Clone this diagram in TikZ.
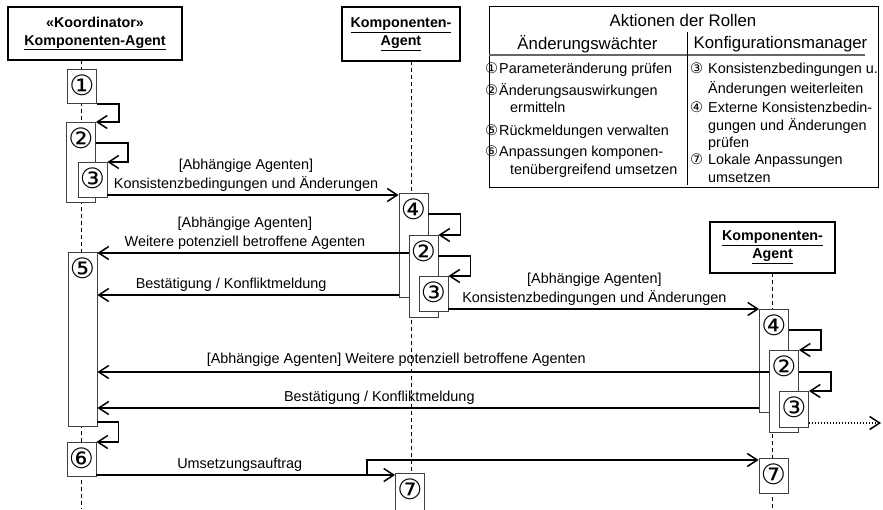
\documentclass[tikz,border=0pt]{standalone}
\usepackage{fontspec}
\setmainfont{Liberation Sans}
\newfontfamily\nrfont{DejaVu Sans}
\usetikzlibrary{arrows.meta,positioning}

\newcommand{\legnr}[2][14pt]{\makebox[#1][l]{\nrfont\fontsize{14.5}{14.5}\selectfont #2}}

\begin{document}
\begin{tikzpicture}[x=1pt, y=-1pt, font=\fontsize{14.4}{19}\selectfont,
        head/.style={rectangle, draw, fill=white, line width=1.6pt, align=center, font=\fontsize{14.3}{18}\selectfont\bfseries},
        act/.style={rectangle, draw=black!75, fill=white, line width=0.8pt, minimum width=29pt, inner sep=0pt, anchor=north,
            label={[anchor=center, yshift=-16.5pt, inner sep=0pt, font=\nrfont\fontsize{28}{28}\selectfont]north:#1}},
        life/.style={dash pattern=on 4pt off 3pt, line width=0.8pt},
        msg/.style={-{Straight Barb[length=10pt, width=13pt]}, line width=1.5pt},
        lbl/.style={above, align=center, inner sep=2.5pt},
        legtxt/.style={anchor=base west, inner sep=0pt}]
        \useasboundingbox (0,0) rectangle (883,509);

        %% Lifelines
        \draw[life] (81.5,60) -- (81.5,509);
        \draw[life] (411,61) -- (411,509);
        \draw[life] (772,273) -- (772,509);

        \node[head, minimum width=174pt, minimum height=53pt] (kA) at (95,33.5) {«Koordinator»\\\underline{Komponenten-Agent}};
        \node[head, minimum width=118pt, minimum height=54pt] (kB) at (401,34) {\underline{Komponenten-}\\\underline{Agent}};
        \node[head, minimum width=125pt, minimum height=51pt] (kC) at (772.5,247.5) {\underline{Komponenten-}\\\underline{Agent}};

        %% Activations, Koordinator
        \node[act=①, minimum height=34pt] (a1) at (82,69) {};
        \node[act=②, minimum height=80pt] (a2) at (81,122) {};
        \node[act=③, minimum height=35pt] (a3) at (92.5,162) {};
        \node[act=⑤, minimum height=174pt] (a5) at (82.5,252) {};
        \node[act=⑥, minimum height=34pt] (a6) at (81.5,442) {};

        %% Activations, Agent B
        \node[act=④, minimum height=104pt] (b4) at (413.5,193) {};
        \node[act=②, minimum height=82pt] (b2) at (423.5,235) {};
        \node[act=③, minimum height=35pt] (b3) at (433.5,276) {};
        \node[act=⑦, minimum height=40pt] (b7) at (410,473) {};

        %% Activations, Agent C
        \node[act=④, minimum height=103pt] (c4) at (774,309) {};
        \node[act=②, minimum height=82pt] (c2) at (784,350) {};
        \node[act=③, minimum height=36pt] (c3) at (794,391) {};
        \node[act=⑦, minimum height=35pt] (c7) at (773.5,458) {};

        %% Self calls
        \draw[msg] (a1.south east) -- ++(22,0) |- (a2.north east);
        \draw[msg] ([yshift=-21pt]a2.north east) -- ++(32,0) |- (a3.north east);
        \draw[msg] ([yshift=5pt]a5.south east) -- ++(21,0) |- (a6.north east);
        \draw[msg] ([yshift=-21pt]b4.north east) -- ++(32,0) |- (b2.north east);
        \draw[msg] ([yshift=-21pt]b2.north east) -- ++(32,0) |- (b3.north east);
        \draw[msg] ([yshift=-21pt]c4.north east) -- ++(32,0) |- (c2.north east);
        \draw[msg] ([yshift=-22pt]c2.north east) -- ++(32,0) |- (c3.north east);

        %% Message rows
        \coordinate (r1) at (0,195);
        \coordinate (r2) at (0,253);
        \coordinate (r3) at (0,295);
        \coordinate (r4) at (0,309);
        \coordinate (r5) at (0,372);
        \coordinate (r6) at (0,408);
        \coordinate (r7) at (0,423);
        \coordinate (r8) at (0,475);
        \coordinate (r9) at (0,460);

        \draw[msg] (a3.east |- r1) -- node[lbl, pos=0.476] {[Abhängige Agenten]\\Konsistenzbedingungen und Änderungen} (b4.west |- r1);
        \draw[msg] (b2.west |- r2) -- node[lbl, pos=0.526] {[Abhängige Agenten]\\Weitere potenziell betroffene Agenten} (a5.east |- r2);
        \draw[msg] (b4.west |- r3) -- node[lbl, pos=0.556] {Bestätigung / Konfliktmeldung} (a5.east |- r3);
        \draw[msg] (b3.east |- r4) -- node[lbl, pos=0.47] {[Abhängige Agenten]\\Konsistenzbedingungen und Änderungen} (c4.west |- r4);
        \draw[msg] (c2.west |- r5) -- node[lbl, pos=0.555, yshift=2pt] {[Abhängige Agenten] Weitere potenziell betroffene Agenten} (a5.east |- r5);
        \draw[msg] (c4.west |- r6) -- node[lbl, pos=0.574] {Bestätigung / Konfliktmeldung} (a5.east |- r6);

        %% Forwarding to further agents
        \coordinate (out) at (881,423);
        \draw[msg, dash pattern=on 1.5pt off 1.5pt] (c3.east |- r7) -- (out);

        %% Umsetzungsauftrag to both agents
        \draw[msg] (a6.east |- r8) -- node[lbl, pos=0.48] {Umsetzungsauftrag} (b7.west |- r8);
        \coordinate (fork) at (367,475);
        \draw[msg] (fork) |- (c7.west |- r9);

        %% Legend
        \node[draw, line width=1pt, minimum width=389pt, minimum height=181pt, inner sep=0pt] (leg) at (683.5,96.5) {};
        \node[font=\fontsize{16.8}{20}\selectfont] (legT) at (683,20) {Aktionen der Rollen};
        \node[font=\fontsize{16.8}{20}\selectfont] (legL) at (587.5,44) {Änderungswächter};
        \node[font=\fontsize{16.8}{20}\selectfont] (legR) at (780.5,44) {Konfigurationsmanager};
        \draw[black!60, line width=1.6pt] (489,55) -- (865,55);
        \draw[line width=0.8pt] (687,32) -- (687,185);

        \foreach \x/\y/\t [count=\i] in {485/73/{\legnr{①}Parameteränderung prüfen},
                485/95/{\legnr{②}Änderungsauswirkungen}, 510/112/{ermitteln},
                485/135/{\legnr{⑤}Rückmeldungen verwalten},
                485/156/{\legnr{⑥}Anpassungen komponen-}, 510/174/{tenübergreifend umsetzen},
                690/73/{\legnr[18pt]{③}Konsistenzbedingungen u.}, 708/93/{Änderungen weiterleiten},
                690/112/{\legnr[18pt]{④}Externe Konsistenzbedin-}, 708/130/{gungen und Änderungen}, 708/147/{prüfen},
                690/164/{\legnr[18pt]{⑦}Lokale Anpassungen}, 708/182/{umsetzen}}
            \node[legtxt] (legE\i) at (\x,\y) {\t};
\end{tikzpicture}
\end{document}
